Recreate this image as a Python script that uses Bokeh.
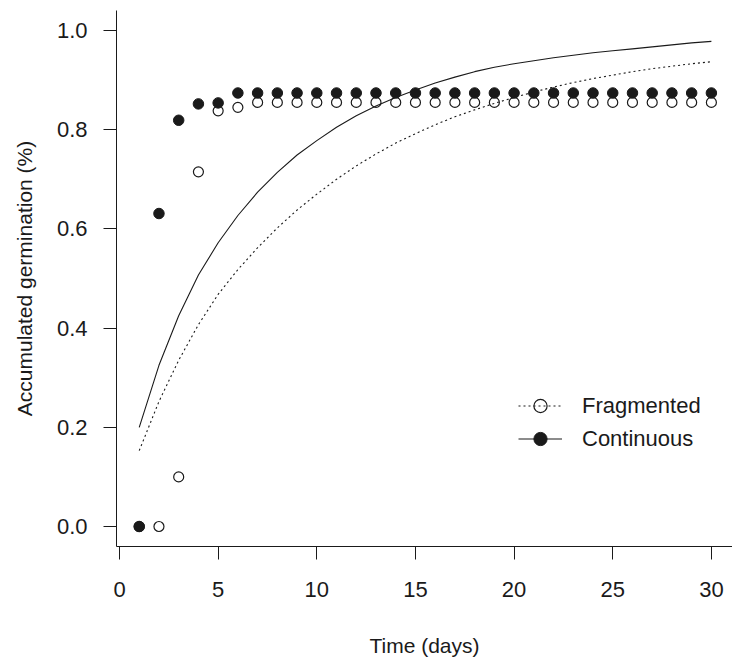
from bokeh.plotting import figure
from bokeh.models import Range1d, FixedTicker, PrintfTickFormatter, Legend, LegendItem, ColumnDataSource
from bokeh.embed import file_html
from bokeh.resources import INLINE

# ---- data ----
days = list(range(1, 31))
fragmented_obs = [0.0, 0.0, 0.10, 0.715, 0.838, 0.845] + [0.855] * 24
continuous_obs = [0.0, 0.631, 0.819, 0.852, 0.854] + [0.874] * 25
continuous_fit = [0.200, 0.325, 0.425, 0.507, 0.572, 0.627, 0.674, 0.714, 0.749, 0.778,
                  0.805, 0.828, 0.848, 0.865, 0.880, 0.894, 0.906, 0.917, 0.926, 0.933,
                  0.939, 0.945, 0.950, 0.955, 0.959, 0.963, 0.967, 0.971, 0.975, 0.978]
fragmented_fit = [0.153, 0.252, 0.335, 0.407, 0.468, 0.518, 0.562, 0.602, 0.638, 0.670,
                  0.700, 0.727, 0.751, 0.773, 0.792, 0.810, 0.826, 0.840, 0.853, 0.865,
                  0.876, 0.886, 0.895, 0.903, 0.910, 0.917, 0.923, 0.928, 0.933, 0.937]
x_ticks = [0, 5, 10, 15, 20, 25, 30]
y_ticks = [0.0, 0.2, 0.4, 0.6, 0.8, 1.0]
series_names = ["Fragmented", "Continuous"]

FONT = "Liberation Sans"
INK = "#1a1a1a"

src = ColumnDataSource(dict(day=days, fo=fragmented_obs, co=continuous_obs,
                            cf=continuous_fit, ff=fragmented_fit))

p = figure(width=732, height=665, output_backend="svg", toolbar_location=None,
           x_range=Range1d(-0.152, 31.07), y_range=Range1d(-0.0403, 1.0403),
           min_border_left=116, min_border_right=0, min_border_top=10, min_border_bottom=119)
p.title = None
p.outline_line_color = None
p.xgrid.visible = False
p.ygrid.visible = False
p.background_fill_color = "white"
p.border_fill_color = "white"

r_ff = p.line("day", "ff", source=src, line_color=INK, line_width=1.1, line_dash="2 3")
r_cf = p.line("day", "cf", source=src, line_color=INK, line_width=1.1)
r_fo = p.scatter("day", "fo", source=src, marker="circle", size=10, fill_color=None,
                 line_color=INK, line_width=1.2)
r_co = p.scatter("day", "co", source=src, marker="circle", size=10.5, fill_color=INK,
                 line_color=INK, line_width=1)

for ax in (p.xaxis[0], p.yaxis[0]):
    ax.axis_line_color = INK
    ax.axis_line_width = 1
    ax.major_tick_line_color = INK
    ax.major_tick_out = 13
    ax.major_tick_in = 0
    ax.minor_tick_line_color = None
    ax.major_label_text_font = FONT
    ax.major_label_text_font_size = "22px"
    ax.major_label_text_color = INK
    ax.axis_label_text_font = FONT
    ax.axis_label_text_font_size = "21px"
    ax.axis_label_text_font_style = "normal"
    ax.axis_label_text_color = INK

p.xaxis.ticker = FixedTicker(ticks=x_ticks)
p.yaxis.ticker = FixedTicker(ticks=y_ticks)
p.yaxis.formatter = PrintfTickFormatter(format="%.1f")
p.xaxis.major_label_standoff = 22
p.yaxis.major_label_standoff = 16
p.xaxis.axis_label = "Time (days)"
p.yaxis.axis_label = "Accumulated germination (%)"
p.xaxis.axis_label_standoff = 34
p.yaxis.axis_label_standoff = 18

legend = Legend(items=[LegendItem(label=series_names[0], renderers=[r_ff, r_fo]),
                       LegendItem(label=series_names[1], renderers=[r_cf, r_co])],
                location=(402, 91))
legend.border_line_color = None
legend.background_fill_alpha = 0
legend.padding = 0
legend.margin = 0
legend.spacing = 0
legend.glyph_width = 44
legend.glyph_height = 33
legend.label_height = 33
legend.label_standoff = 20
legend.label_text_font = FONT
legend.label_text_font_size = "22px"
legend.label_text_color = INK
p.add_layout(legend, "center")

open("out.html", "w").write(file_html(p, INLINE))
